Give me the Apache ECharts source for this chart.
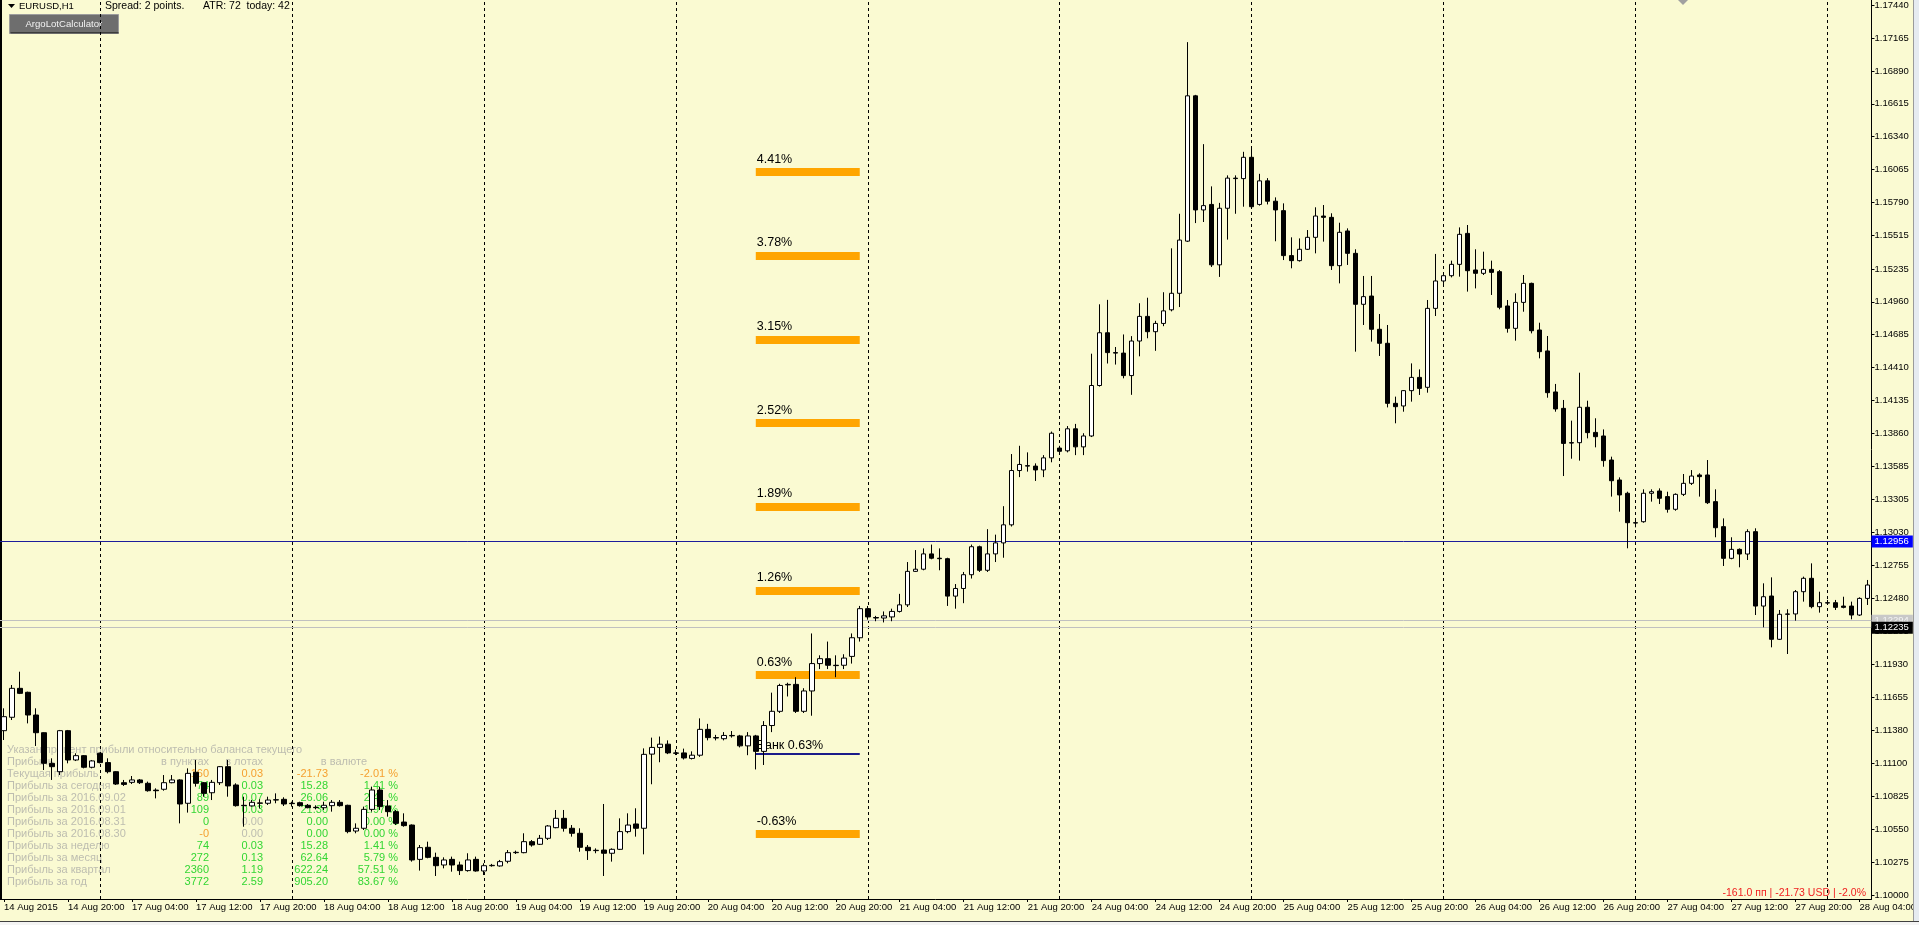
<!DOCTYPE html>
<html><head><meta charset="utf-8">
<script src="https://cdn.jsdelivr.net/npm/echarts@6.0.0/dist/echarts.min.js"></script>
<style>html,body{margin:0;padding:0;background:#fafad2;overflow:hidden}#c{width:1919px;height:925px}</style>
</head><body><div id="c"></div><script>
// ---------- data ----------
const tickLabels = ['14 Aug 2015','14 Aug 20:00','17 Aug 04:00','17 Aug 12:00','17 Aug 20:00','18 Aug 04:00','18 Aug 12:00','18 Aug 20:00','19 Aug 04:00','19 Aug 12:00','19 Aug 20:00','20 Aug 04:00','20 Aug 12:00','20 Aug 20:00','21 Aug 04:00','21 Aug 12:00','21 Aug 20:00','24 Aug 04:00','24 Aug 12:00','24 Aug 20:00','25 Aug 04:00','25 Aug 12:00','25 Aug 20:00','26 Aug 04:00','26 Aug 12:00','26 Aug 20:00','27 Aug 04:00','27 Aug 12:00','27 Aug 20:00','28 Aug 04:00'];
const daySeparators = [12,36,60,84,108,132,156,180,204,228];
const yTicks = [1.17440,1.17165,1.16890,1.16615,1.16340,1.16065,1.15790,1.15515,1.15235,1.14960,1.14685,1.14410,1.14135,1.13860,1.13585,1.13305,1.13030,1.12755,1.12480,1.12205,1.11930,1.11655,1.11380,1.11100,1.10825,1.10550,1.10275,1.10000];
const yMin = 1.099666, yMax = 1.174833;

const open = [1.11374,1.11486,1.11728,1.11695,1.11505,1.11357,1.11101,1.11031,1.11374,1.11129,
1.11165,1.11068,1.11185,1.11107,1.11031,1.10939,1.10942,1.10962,1.10934,1.10877,
1.10884,1.10939,1.10962,1.10767,1.11026,1.10939,1.10855,1.10939,1.11073,1.10920,
1.10750,1.10745,1.10770,1.10767,1.10794,1.10800,1.10767,1.10772,1.10750,1.10733,
1.10730,1.10747,1.10775,1.10750,1.10535,1.10558,1.10716,1.10878,1.10744,1.10697,
1.10610,1.10585,1.10298,1.10399,1.10315,1.10251,1.10298,1.10251,1.10204,1.10298,
1.10201,1.10245,1.10243,1.10282,1.10354,1.10354,1.10446,1.10424,1.10474,1.10563,
1.10641,1.10558,1.10516,1.10399,1.10371,1.10376,1.10349,1.10382,1.10530,1.10594,
1.10558,1.11178,1.11234,1.11261,1.11188,1.11188,1.11142,1.11169,1.11385,1.11316,
1.11307,1.11334,1.11330,1.11247,1.11330,1.11201,1.11417,1.11536,1.11757,1.11761,
1.11536,1.11706,1.11935,1.11976,1.11921,1.11921,1.11995,1.12151,1.12394,1.12320,
1.12316,1.12325,1.12371,1.12426,1.12706,1.12724,1.12852,1.12816,1.12812,1.12499,
1.12563,1.12678,1.12912,1.12715,1.12852,1.12944,1.13095,1.13549,1.13590,1.13586,
1.13554,1.13655,1.13737,1.13714,1.13898,1.13747,1.13838,1.14260,1.14701,1.14535,
1.14531,1.14343,1.14632,1.14838,1.14710,1.14779,1.14893,1.15031,1.15467,1.16682,
1.15728,1.15774,1.15269,1.15742,1.15994,1.15990,1.16168,1.15774,1.15971,1.15801,
1.15722,1.15346,1.15304,1.15399,1.15499,1.15677,1.15666,1.15262,1.15552,1.15365,
1.14939,1.15008,1.14730,1.14613,1.14111,1.14089,1.14217,1.14328,1.14245,1.14905,
1.15134,1.15178,1.15273,1.15532,1.15226,1.15198,1.15231,1.15212,1.14925,1.14738,
1.14955,1.15114,1.14724,1.14549,1.14206,1.14069,1.13782,1.13782,1.14078,1.13868,
1.13838,1.13637,1.13470,1.13359,1.13113,1.13121,1.13359,1.13378,1.13331,1.13225,
1.13350,1.13442,1.13512,1.13512,1.13289,1.13080,1.12815,1.12890,1.12851,1.13038,
1.12416,1.12500,1.12138,1.12347,1.12350,1.12536,1.12648,1.12411,1.12444,1.12444,
1.12416,1.12416,1.12341,1.12480];
const close = [1.11491,1.11728,1.11686,1.11505,1.11357,1.11101,1.11073,1.11374,1.11129,1.11165,
1.11068,1.11121,1.11107,1.11031,1.10928,1.10925,1.10962,1.10939,1.10872,1.10872,
1.10939,1.10962,1.10761,1.11017,1.10934,1.10850,1.10942,1.11073,1.10912,1.10747,
1.10747,1.10775,1.10767,1.10794,1.10797,1.10761,1.10764,1.10747,1.10730,1.10730,
1.10750,1.10775,1.10747,1.10530,1.10558,1.10716,1.10878,1.10739,1.10697,1.10599,
1.10580,1.10293,1.10396,1.10315,1.10245,1.10293,1.10251,1.10204,1.10293,1.10201,
1.10245,1.10248,1.10279,1.10354,1.10357,1.10446,1.10418,1.10474,1.10577,1.10641,
1.10558,1.10516,1.10399,1.10371,1.10374,1.10349,1.10382,1.10530,1.10585,1.10558,
1.11176,1.11234,1.11261,1.11188,1.11185,1.11146,1.11169,1.11385,1.11316,1.11313,
1.11334,1.11331,1.11247,1.11330,1.11201,1.11417,1.11536,1.11752,1.11761,1.11536,
1.11706,1.11935,1.11976,1.11921,1.11918,1.11981,1.12151,1.12394,1.12325,1.12316,
1.12334,1.12371,1.12426,1.12706,1.12724,1.12852,1.12816,1.12812,1.12499,1.12563,
1.12678,1.12912,1.12715,1.12852,1.12944,1.13095,1.13549,1.13600,1.13586,1.13554,
1.13655,1.13861,1.13710,1.13898,1.13747,1.13838,1.14260,1.14701,1.14535,1.14531,
1.14343,1.14632,1.14838,1.14710,1.14779,1.14884,1.15031,1.15476,1.16682,1.15728,
1.15764,1.15269,1.15742,1.15994,1.15990,1.16168,1.15755,1.15971,1.15801,1.15728,
1.15346,1.15304,1.15399,1.15499,1.15677,1.15666,1.15262,1.15541,1.15365,1.14939,
1.15003,1.14730,1.14613,1.14111,1.14083,1.14217,1.14328,1.14236,1.14905,1.15134,
1.15178,1.15273,1.15524,1.15220,1.15198,1.15231,1.15206,1.14914,1.14738,1.14955,
1.15114,1.14718,1.14543,1.14200,1.14064,1.13776,1.13779,1.14078,1.13866,1.13832,
1.13632,1.13464,1.13345,1.13113,1.13110,1.13359,1.13372,1.13317,1.13225,1.13350,
1.13442,1.13503,1.13498,1.13280,1.13071,1.12815,1.12890,1.12851,1.13038,1.12416,
1.12494,1.12138,1.12347,1.12350,1.12536,1.12648,1.12411,1.12444,1.12441,1.12405,
1.12405,1.12341,1.12480,1.12592];
const low = [1.11296,1.11463,1.11680,1.11435,1.11246,1.11045,1.10962,1.11003,1.11101,1.11120,
1.11059,1.11059,1.11101,1.11017,1.10920,1.10912,1.10928,1.10928,1.10864,1.10808,
1.10872,1.10934,1.10599,1.10689,1.10906,1.10822,1.10794,1.10920,1.10822,1.10739,
1.10571,1.10739,1.10725,1.10753,1.10767,1.10744,1.10739,1.10739,1.10725,1.10716,
1.10711,1.10697,1.10739,1.10516,1.10516,1.10544,1.10697,1.10711,1.10655,1.10585,
1.10571,1.10279,1.10204,1.10307,1.10159,1.10223,1.10195,1.10167,1.10195,1.10195,
1.10167,1.10237,1.10237,1.10265,1.10343,1.10349,1.10404,1.10418,1.10460,1.10558,
1.10530,1.10488,1.10362,1.10293,1.10349,1.10159,1.10279,1.10376,1.10516,1.10488,
1.10340,1.10926,1.11110,1.11178,1.11170,1.11133,1.11133,1.11155,1.11293,1.11293,
1.11293,1.11316,1.11234,1.11169,1.11050,1.11087,1.11362,1.11522,1.11660,1.11522,
1.11522,1.11499,1.11889,1.11889,1.11821,1.11889,1.11935,1.12119,1.12302,1.12289,
1.12279,1.12289,1.12362,1.12408,1.12701,1.12715,1.12807,1.12715,1.12417,1.12394,
1.12440,1.12646,1.12701,1.12701,1.12784,1.12820,1.13081,1.13494,1.13540,1.13462,
1.13494,1.13618,1.13701,1.13701,1.13678,1.13678,1.13829,1.14251,1.14444,1.14435,
1.14320,1.14182,1.14504,1.14655,1.14550,1.14756,1.14880,1.14916,1.15460,1.15618,
1.15627,1.15251,1.15168,1.15480,1.15696,1.15755,1.15742,1.15764,1.15774,1.15466,
1.15309,1.15240,1.15296,1.15393,1.15365,1.15463,1.15226,1.15114,1.15268,1.14543,
1.14766,1.14627,1.14507,1.14077,1.13944,1.14041,1.14125,1.14181,1.14200,1.14841,
1.15109,1.15164,1.15170,1.15045,1.15072,1.15184,1.15017,1.14897,1.14702,1.14635,
1.14877,1.14696,1.14487,1.14158,1.14041,1.13503,1.13648,1.13632,1.13818,1.13743,
1.13581,1.13331,1.13205,1.12899,1.13074,1.13113,1.13289,1.13269,1.13197,1.13213,
1.13336,1.13428,1.13331,1.13269,1.12991,1.12751,1.12807,1.12740,1.12801,1.12341,
1.12238,1.12071,1.12132,1.12015,1.12294,1.12453,1.12397,1.12361,1.12425,1.12383,
1.12397,1.12305,1.12333,1.12425];
const high = [1.11561,1.11756,1.11867,1.11700,1.11561,1.11360,1.11143,1.11380,1.11380,1.11185,
1.11170,1.11129,1.11190,1.11143,1.11035,1.10962,1.10995,1.10970,1.10948,1.10892,
1.11003,1.11003,1.10968,1.11059,1.11129,1.10945,1.10962,1.11078,1.11129,1.10934,
1.10822,1.10794,1.10800,1.10822,1.10850,1.10817,1.10780,1.10780,1.10761,1.10750,
1.10780,1.10794,1.10794,1.10755,1.10599,1.10739,1.10906,1.10906,1.10794,1.10711,
1.10683,1.10590,1.10418,1.10446,1.10354,1.10315,1.10321,1.10279,1.10349,1.10321,
1.10265,1.10260,1.10293,1.10376,1.10371,1.10516,1.10460,1.10502,1.10585,1.10711,
1.10711,1.10585,1.10558,1.10418,1.10390,1.10761,1.10390,1.10641,1.10683,1.10725,
1.11226,1.11316,1.11325,1.11293,1.11215,1.11224,1.11201,1.11477,1.11431,1.11339,
1.11362,1.11371,1.11339,1.11362,1.11339,1.11454,1.11692,1.11766,1.11775,1.11821,
1.11729,1.12187,1.12004,1.12119,1.12004,1.12013,1.12187,1.12417,1.12417,1.12334,
1.12371,1.12394,1.12518,1.12784,1.12884,1.12898,1.12930,1.12898,1.12820,1.12600,
1.12701,1.12930,1.12921,1.13059,1.13013,1.13251,1.13687,1.13756,1.13701,1.13609,
1.13678,1.13875,1.13756,1.13921,1.13939,1.13861,1.14526,1.14939,1.14976,1.14582,
1.14687,1.14673,1.14948,1.14994,1.14801,1.15040,1.15407,1.15696,1.17131,1.16690,
1.16278,1.15925,1.15787,1.16017,1.16017,1.16214,1.16246,1.16030,1.15994,1.15833,
1.15783,1.15499,1.15490,1.15560,1.15750,1.15769,1.15700,1.15621,1.15574,1.15399,
1.15176,1.15176,1.14858,1.14766,1.14167,1.14222,1.14445,1.14395,1.14975,1.15360,
1.15198,1.15304,1.15582,1.15602,1.15399,1.15379,1.15304,1.15226,1.14975,1.15031,
1.15184,1.15120,1.14785,1.14674,1.14273,1.14139,1.13966,1.14367,1.14133,1.13986,
1.13893,1.13665,1.13492,1.13372,1.13127,1.13392,1.13392,1.13400,1.13372,1.13358,
1.13520,1.13553,1.13526,1.13637,1.13392,1.13149,1.12991,1.12898,1.13058,1.13066,
1.12606,1.12656,1.12383,1.12389,1.12550,1.12662,1.12773,1.12536,1.12467,1.12467,
1.12494,1.12453,1.12489,1.12634];

// levels drawn by the lot calculator (band centre prices)
const levelNames = ['4.41%','3.78%','3.15%','2.52%','1.89%','1.26%','0.63%','-0.63%'];
const levelValues = [1.16045,1.15348,1.14646,1.13949,1.13248,1.12546,1.11839,1.10510];
const levelFromBar = 94, levelToBar = 107;
const bankName = 'Банк 0.63%';
const bankValue = 1.11179;
// horizontal price lines
const bluePrice = 1.12956;
const greyPrices = [1.12294, 1.12235];

// info table
const tableTitle = 'Указан процент прибыли относительно баланса текущего';
const tableHeaderName = 'Прибыль';
const tableHeaders = ['в пунктах','в лотах','в валюте'];
const tableNames = ['Текущая прибыль','Прибыль за сегодня','Прибыль за 2016.09.02','Прибыль за 2016.09.01','Прибыль за 2016.08.31','Прибыль за 2016.08.30','Прибыль за неделю','Прибыль за месяц','Прибыль за квартал','Прибыль за год'];
const tablePoints = ['-160','74','89','109','0','-0','74','272','2360','3772'];
const tableLots = ['0.03','0.03','0.07','0.03','0.00','0.00','0.03','0.13','1.19','2.59'];
const tableMoney = ['-21.73','15.28','26.06','21.30','0.00','0.00','15.28','62.64','622.24','905.20'];
const tablePct = ['-2.01 %','1.41 %','2.41 %','1.97 %','0.00 %','0.00 %','1.41 %','5.79 %','57.51 %','83.67 %'];
const pointsTone = ['o','g','g','g','g','o','g','g','g','g'];
const lotsTone = ['o','g','g','g','s','s','g','g','g','g'];
const moneyTone = ['o','g','g','g','g','g','g','g','g','g'];
const pctTone = ['o','g','g','g','g','g','g','g','g','g'];

const headerSymbol = 'EURUSD,H1';
const headerSpread = 'Spread: 2 points.';
const headerAtr = 'ATR: 72  today: 42';
const buttonText = 'ArgoLotCalculator';
const profitText = '-161.0 пп | -21.73 USD | -2.0%';

// ---------- chart ----------
const FONT = "'Liberation Sans', Arial, sans-serif";
const BG = '#fafad2';
const TONE = {g:'#33d633', o:'#f5a030', s:'#bdbdb0'};
const cats = open.map((_, i) => String(i));
const ohlc = open.map((o, i) => [o, close[i], low[i], high[i]]);

function txt(x, y, text, fill, size, align, extra) {
  return Object.assign({
    type: 'text', x: x, y: y, z: 1, silent: true,
    style: { text: text, fill: fill, font: size + 'px ' + FONT,
      align: align || 'left', verticalAlign: 'middle',
      textAlign: align || 'left', textVerticalAlign: 'middle' }
  }, extra || {});
}

const graphics = [];
graphics.push({type:'rect', silent:true, z:1, shape:{x:0, y:0, width:2, height:900}, style:{fill:'#000'}});
graphics.push({type:'rect', silent:true, z:1, shape:{x:1913, y:0, width:6, height:925}, style:{fill:'#e6ebf0'}});
graphics.push({type:'rect', silent:true, z:1, shape:{x:1913, y:0, width:1, height:925}, style:{fill:'#9a9a9a'}});
graphics.push({type:'rect', silent:true, z:1, shape:{x:0, y:921, width:1919, height:4}, style:{fill:'#f4f4f4'}});
graphics.push({type:'rect', silent:true, z:1, shape:{x:0, y:921, width:1919, height:1}, style:{fill:'#404040'}});
graphics.push({type:'polygon', silent:true, z:1, shape:{points:[[1678,0],[1688,0],[1683,5]]}, style:{fill:'#a0a0a0'}});
graphics.push({type:'polygon', silent:true, z:1, shape:{points:[[8,4],[15,4],[11.5,8]]}, style:{fill:'#000'}});
graphics.push(txt(19, 6.5, headerSymbol, '#000', 9.5));
graphics.push(txt(105, 6.5, headerSpread, '#000', 10.5));
graphics.push(txt(203, 6.5, headerAtr, '#000', 10.5));
graphics.push({type:'rect', silent:true, z:1, shape:{x:9.5, y:14.5, width:109, height:19}, style:{fill:'#6e6e6e', stroke:'#9c9c9c', lineWidth:1}});
graphics.push({type:'rect', silent:true, z:1, shape:{x:10.5, y:32, width:108, height:1.5}, style:{fill:'#3c3c3c'}});
graphics.push(txt(63.8, 24, buttonText, '#f2f2f2', 9.6, 'center'));
const rowY = k => 750 + 12 * k;
graphics.push(txt(7, rowY(0), tableTitle, TONE.s, 11));
graphics.push(txt(7, rowY(1), tableHeaderName, TONE.s, 11));
graphics.push(txt(209, rowY(1), tableHeaders[0], TONE.s, 11, 'right'));
graphics.push(txt(263, rowY(1), tableHeaders[1], TONE.s, 11, 'right'));
graphics.push(txt(367, rowY(1), tableHeaders[2], TONE.s, 11, 'right'));
tableNames.forEach((n, k) => {
  const y = rowY(k + 2);
  graphics.push(txt(7, y, n, TONE.s, 11));
  graphics.push(txt(209, y, tablePoints[k], TONE[pointsTone[k]], 11, 'right'));
  graphics.push(txt(263, y, tableLots[k], TONE[lotsTone[k]], 11, 'right'));
  graphics.push(txt(328, y, tableMoney[k], TONE[moneyTone[k]], 11, 'right'));
  graphics.push(txt(398, y, tablePct[k], TONE[pctTone[k]], 11, 'right'));
});
graphics.push(txt(1866, 893, profitText, '#f02020', 10.5, 'right'));

const priceLabel = (bg, fg) => ({show:true, position:'end', distance:0, formatter: p => Number(p.value).toFixed(5),
  backgroundColor:bg, color:fg, padding:[1,4,1,3], fontSize:9.5, fontFamily:FONT});

const bandLines = levelValues.map((v, k) => [
  {coord:[levelFromBar, v], name: levelNames[k],
   lineStyle:{color:'#ffa500', width:8, type:'solid', cap:'butt'},
   label:{show:true, position:'insideStartTop', distance:[1,6], formatter:'{b}', color:'#000', fontSize:12.5, fontFamily:FONT}},
  {coord:[levelToBar, v]}
]);
bandLines.push([
  {coord:[levelFromBar, bankValue], name: bankName,
   lineStyle:{color:'#1a1a8a', width:2, type:'solid', cap:'butt'},
   label:{show:true, position:'insideStartTop', distance:[1,2], formatter:'{b}', color:'#000', fontSize:12.5, fontFamily:FONT}},
  {coord:[levelToBar, bankValue]}
]);

const option = {
  backgroundColor: BG,
  animation: false,
  textStyle: {fontFamily: FONT},
  grid: {left: 0, top: 0, width: 1872, height: 899, containLabel: false},
  xAxis: {
    type: 'category', data: cats, boundaryGap: true,
    axisLine: {show: true, lineStyle: {color: '#000', width: 1}},
    axisTick: {show: true, interval: 7, alignWithLabel: true, length: 3, lineStyle: {color: '#000'}},
    axisLabel: {interval: 7, align: 'left', margin: 3, color: '#000', fontSize: 9.5, fontFamily: FONT,
      formatter: (v, i) => (i % 8 === 0 ? (tickLabels[i / 8] || '') : '')},
    splitLine: {show: false}
  },
  yAxis: {
    type: 'value', position: 'right', min: yMin, max: yMax, scale: true,
    splitLine: {show: false},
    axisLine: {show: true, lineStyle: {color: '#000', width: 1}},
    axisTick: {show: true, customValues: yTicks, length: 3, lineStyle: {color: '#000'}},
    axisLabel: {show: true, customValues: yTicks, margin: 3, color: '#000', fontSize: 9.5, fontFamily: FONT,
      formatter: v => v.toFixed(5)}
  },
  graphic: {elements: graphics},
  series: [
    {
      type: 'line', data: [], z: 1, silent: true,
      markLine: {symbol: ['none','none'], silent: true, animation: false, label: {show: false},
        lineStyle: {color: '#000', width: 1, type: [3,3]},
        data: daySeparators.map(i => ({xAxis: i}))}
    },
    {
      type: 'line', data: [], z: 1, silent: true,
      markLine: {symbol: ['none','none'], silent: true, animation: false, precision: 5, data: bandLines}
    },
    {
      type: 'line', data: [], z: 3, silent: true,
      markLine: {symbol: ['none','none'], silent: true, animation: false, precision: 5,
        data: [
          {yAxis: bluePrice, lineStyle: {color: '#1c1c9c', width: 1, type: 'solid'}, label: priceLabel('#0000ff', '#ffffff')},
          {yAxis: greyPrices[0], lineStyle: {color: '#c0c0c0', width: 1, type: 'solid'}, label: priceLabel('#c8c8c8', '#f4f4f4')},
          {yAxis: greyPrices[1], lineStyle: {color: '#c0c0c0', width: 1, type: 'solid'}, label: priceLabel('#000000', '#ffffff')}
        ]}
    },
    {
      type: 'candlestick', z: 5, silent: true, barWidth: 5,
      data: ohlc,
      itemStyle: {color: '#ffffff', color0: '#000000', borderColor: '#000000', borderColor0: '#000000', borderWidth: 1},
      emphasis: {disabled: true}
    }
  ]
};
const chart = echarts.init(document.getElementById('c'));
chart.setOption(option);
</script></body></html>
